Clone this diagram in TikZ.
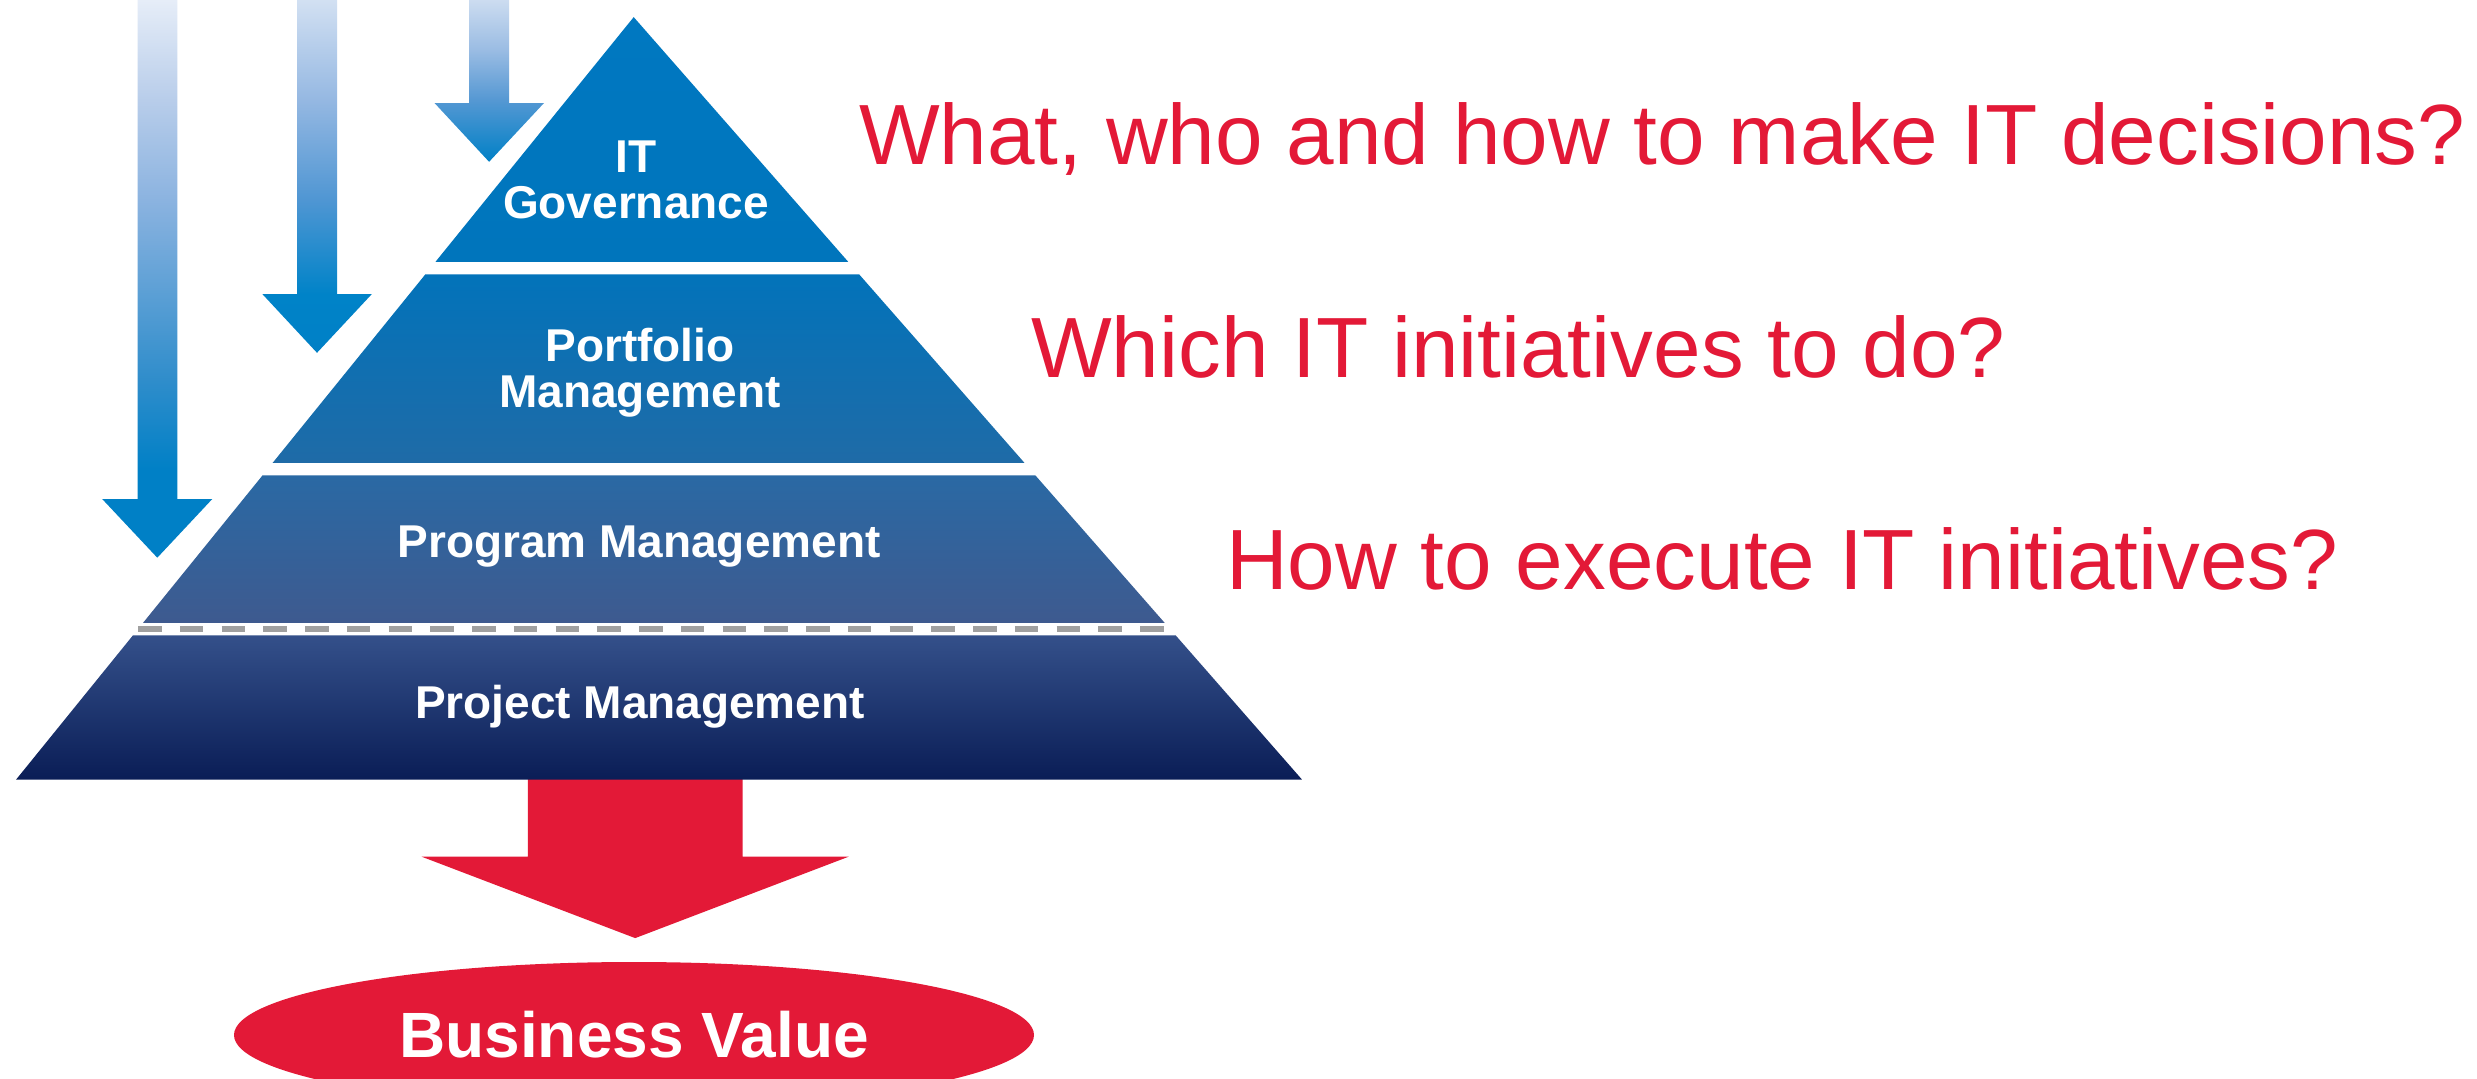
\documentclass[tikz,border=0pt]{standalone}
\usepackage{fontspec}
\setmainfont{Liberation Sans}
\usetikzlibrary{shapes.geometric}
\definecolor{bvred}{RGB}{227,25,55}
\definecolor{dashgray}{HTML}{A0A0A0}
\definecolor{pyrA1}{HTML}{0078C1}\definecolor{pyrA2}{HTML}{0075BC}
\definecolor{pyrB1}{HTML}{0273BA}\definecolor{pyrB2}{HTML}{1F6BA7}
\definecolor{pyrC1}{HTML}{2A69A4}\definecolor{pyrC2}{HTML}{3E5A8F}
\definecolor{pyrD1}{HTML}{34508A}\definecolor{pyrD2}{HTML}{0A1D56}
\definecolor{arrBot}{HTML}{0080C6}
\definecolor{aOneA}{HTML}{2F8DCB}\definecolor{aOneB}{HTML}{8BB3E0}
\definecolor{aOneC}{HTML}{B8CDEA}\definecolor{aOneD}{HTML}{E6EDF8}
\definecolor{aTwoA}{HTML}{0083C8}\definecolor{aTwoB}{HTML}{4F96D3}
\definecolor{aTwoC}{HTML}{95B8E2}\definecolor{aTwoD}{HTML}{D2E0F2}
\definecolor{aThrA}{HTML}{5598D3}\definecolor{aThrB}{HTML}{9ABCE3}
\definecolor{aThrD}{HTML}{CCDCF0}
\pgfdeclareverticalshading{arrowOne}{100bp}{color(0bp)=(arrBot); color(25bp)=(arrBot); color(32.86bp)=(arrBot); color(40.93bp)=(aOneA); color(57.07bp)=(aOneB); color(66.03bp)=(aOneC); color(75bp)=(aOneD); color(100bp)=(aOneD)}
\pgfdeclareverticalshading{arrowTwo}{100bp}{color(0bp)=(arrBot); color(25bp)=(arrBot); color(33.33bp)=(aTwoA); color(46.66bp)=(aTwoB); color(60.83bp)=(aTwoC); color(75bp)=(aTwoD); color(100bp)=(aTwoD)}
\pgfdeclareverticalshading{arrowThree}{100bp}{color(0bp)=(arrBot); color(25bp)=(arrBot); color(44.1bp)=(aThrA); color(59.55bp)=(aThrB); color(75bp)=(aThrD); color(100bp)=(aThrD)}
\tikzset{
  lbl/.style={text=white, font=\fontsize{46}{45.5}\selectfont\bfseries, inner sep=0pt, align=center},
  question/.style={text=bvred, font=\fontsize{85.5}{100}\selectfont, inner sep=0pt, anchor=base west},
}
\begin{document}
\begin{tikzpicture}[x=1pt,y=-1pt]
\useasboundingbox[fill=white] (0,0) rectangle (2477,1079);
% blue arrows
\shade[shading=arrowOne] (137.5,0) -- (177.3,0) -- (177.3,499) -- (212.3,499) -- (157.3,557.7) -- (102.2,499) -- (137.5,499) -- cycle;
\shade[shading=arrowTwo] (297,0) -- (337,0) -- (337,294) -- (371.9,294) -- (317,352.8) -- (262.3,294) -- (297,294) -- cycle;
\shade[shading=arrowThree] (469.2,0) -- (509,0) -- (509,103) -- (544,103) -- (489.1,161.8) -- (434.5,103) -- (469.2,103) -- cycle;
% red arrow
\fill[bvred] (527.8,775) -- (742.5,775) -- (742.5,856.7) -- (848.6,856.7) -- (635.2,938.1) -- (421.7,856.7) -- (527.8,856.7) -- cycle;
% pyramid layers
\shade[top color=pyrA1, bottom color=pyrA2] (633.7,17.1) -- (848.2,261.8) -- (435.5,261.8) -- cycle;
\shade[top color=pyrB1, bottom color=pyrB2] (425.4,274.3) -- (859.1,274.3) -- (1024.4,462.8) -- (272.7,462.8) -- cycle;
\shade[top color=pyrC1, bottom color=pyrC2] (262.6,475.3) -- (1035.3,475.3) -- (1164.7,622.9) -- (143.0,622.9) -- cycle;
\shade[top color=pyrD1, bottom color=pyrD2] (133.0,635.3) -- (1175.6,635.3) -- (1302.1,779.7) -- (16.0,779.7) -- cycle;
% dashed separator
\coordinate (dashL) at (138,629.1);
\coordinate (dashR) at (1164.5,629.1);
\draw[dashgray, line width=6pt, dash pattern=on 23.6pt off 18.15pt] (dashL) -- (dashR);
% labels
\node[lbl, anchor=north] (gov) at (636,141) {IT\\Governance};
\node[lbl, anchor=north] (port) at (640,328) {Portfolio\\Management};
\node[lbl, anchor=base] (prog) at (639,557.5) {Program Management};
\node[lbl, anchor=base] (proj) at (640,718) {Project Management};
% business value
\node[ellipse, fill=bvred, minimum width=800pt, minimum height=146pt, inner sep=0pt,
      text=white, font=\fontsize{64}{64}\selectfont\bfseries] (bv) at (634,1035) {Business Value};
% questions
\node[question] (q1) at (859,164) {What, who and how to make IT decisions?};
\node[question] (q2) at (1031,377) {Which IT initiatives to do?};
\node[question] (q3) at (1226,589) {How to execute IT initiatives?};
\end{tikzpicture}
\end{document}
